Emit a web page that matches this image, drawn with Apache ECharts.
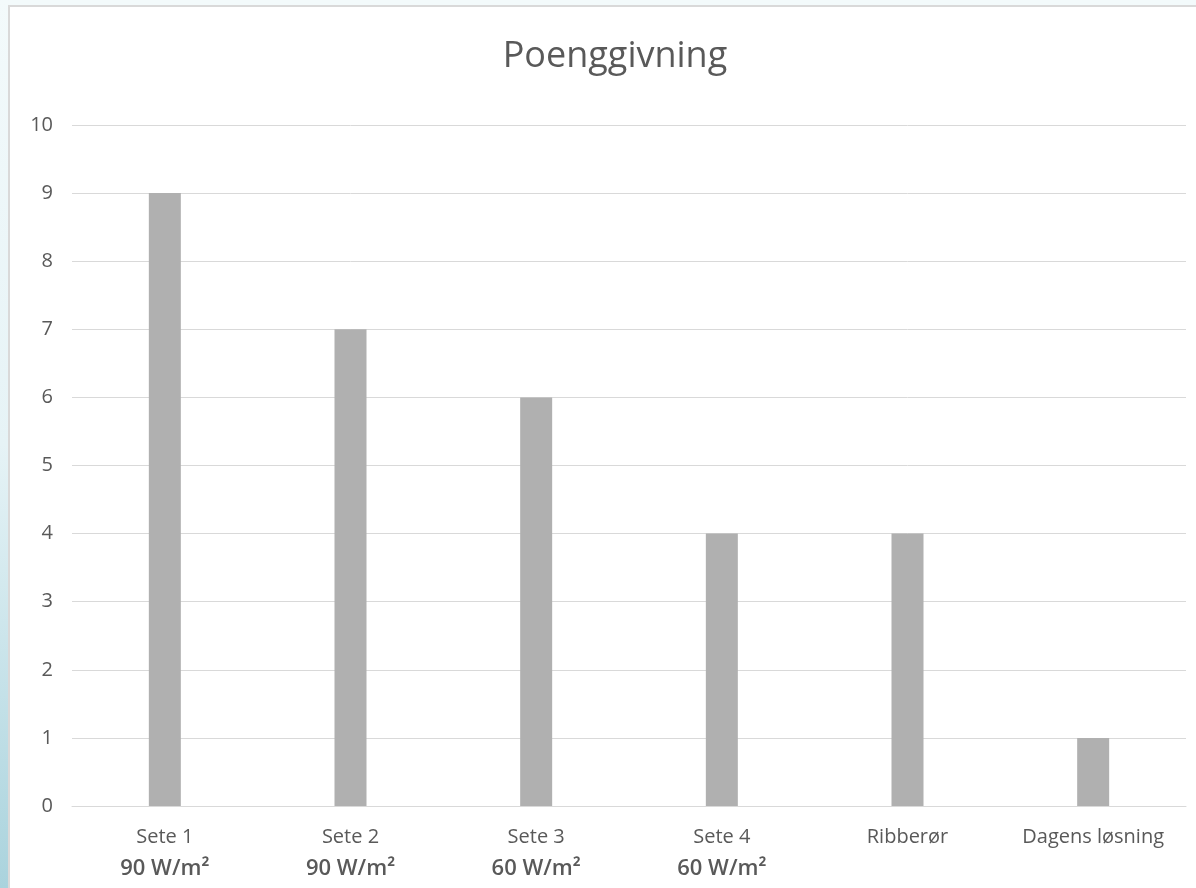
<!DOCTYPE html>
<html>
<head>
<meta charset="utf-8">
<script src="https://cdn.jsdelivr.net/npm/echarts@6/dist/echarts.min.js"></script>
<style>
  html, body { margin: 0; padding: 0; width: 1196px; height: 888px; overflow: hidden; }
  body { background: #f3fafb; position: relative; }
  #strip { position: absolute; left: 0; top: 0; width: 10px; height: 888px;
    background: linear-gradient(to bottom, #f3fafb 0%, #e6f3f6 50%, #aad3dd 100%); }
  #box { position: absolute; left: 8px; top: 5px; right: -4px; bottom: -4px;
    background: #ffffff; border: 2px solid #d9d9d9; }
  #chart { position: absolute; left: 0; top: 0; width: 1196px; height: 888px; }
</style>
</head>
<body>
<div id="strip"></div>
<div id="box"></div>
<div id="chart"></div>
<script>
var categories = ['Sete 1', 'Sete 2', 'Sete 3', 'Sete 4', 'Ribberør', 'Dagens løsning'];
var subLabels = ['90 W/m²', '90 W/m²', '60 W/m²', '60 W/m²', '', ''];
var scores = [9, 7, 6, 4, 4, 1];
var yTicks = { min: 0, max: 10, interval: 1 };

var chart = echarts.init(document.getElementById('chart'), null, { renderer: 'canvas' });
chart.setOption({
  backgroundColor: 'transparent',
  animation: false,
  title: {
    text: 'Poenggivning',
    left: '51%',
    textAlign: 'center',
    top: 34,
    textStyle: { fontFamily: 'Open Sans', fontSize: 36, fontWeight: 'normal', color: '#595959' }
  },
  grid: { left: 72, right: 10, top: 125, bottom: 82, containLabel: false },
  xAxis: {
    type: 'category',
    data: categories,
    axisLine: { show: true, lineStyle: { color: '#d9d9d9', width: 1 } },
    axisTick: { show: false },
    axisLabel: {
      margin: 15,
      interval: 0,
      formatter: function (v, i) {
        var s = subLabels[i];
        return '{a|' + v + '}' + (s ? '\n{b|' + s + '}' : '');
      },
      rich: {
        a: { fontFamily: 'Open Sans', fontSize: 20, color: '#595959', lineHeight: 32 },
        b: { fontFamily: 'Open Sans', fontSize: 22, fontWeight: 600, color: '#595959', lineHeight: 32 }
      }
    }
  },
  yAxis: {
    type: 'value',
    min: yTicks.min,
    max: yTicks.max,
    interval: yTicks.interval,
    axisLine: { show: false },
    axisTick: { show: false },
    axisLabel: { margin: 19, fontFamily: 'Open Sans', fontSize: 20, color: '#595959' },
    splitLine: { lineStyle: { color: '#d9d9d9', width: 1 } }
  },
  series: [{
    type: 'bar',
    data: scores,
    barWidth: 32,
    itemStyle: { color: '#b0b0b0' }
  }]
});
</script>
</body>
</html>
